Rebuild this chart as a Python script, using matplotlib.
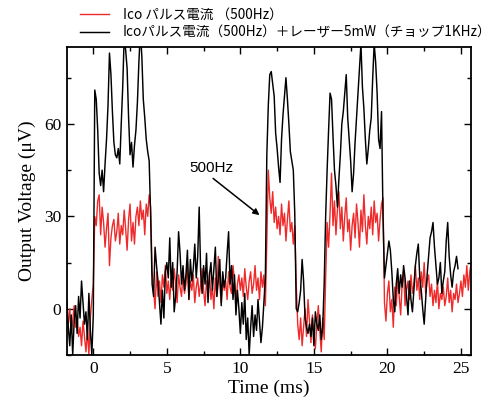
import numpy as np
import matplotlib
matplotlib.use('Agg')
import matplotlib.pyplot as plt
from matplotlib.ticker import MultipleLocator

# サンプリング: -1.8 ms から 0.1 ms 刻み
T_START = -1.8
DT = 0.1

# Ico パルス電流 (500Hz)  [µV]
red_vals = [
    -2, -5, 0, -8, -4, 1, -6, -3, -9,
    -6, -12, -4, -9, -14, -7, -15, -3, 3, 8,
    30, 27, 35, 37, 24, 33, 28, 20, 26, 31,
    14, 23, 27, 29, 22, 25, 31, 21, 27, 24,
    32, 26, 19, 29, 34, 22, 28, 21, 30, 33,
    27, 35, 29, 32, 24, 34, 30, 37, 33, 12,
    6, 0, 12, 4, 9, 2, 11, 7, 14, 5,
    9, 3, 10, 6, 13, 8, 2, 11, 7, 4,
    12, 5, 8, 15, 3, 9, 6, 11, 2, 7,
    10, 4, 8, 13, 6, 1, 9, 5, 12, 3,
    7, 0, 10, 4, 17, 8, 2, 11, 6, 9,
    3, 12, 7, 5, 14, 9, 2, 8, 11, 6,
    10, 4, 13, 7, 3, 9, 12, 5, 8, 14,
    6, 10, 3, 12, 7, 11, 1, 22, 45, 36,
    31, 38, 28, 33, 26, 30, 24, 34, 27, 31,
    22, 29, 35, 25, 28, 21, 27, 8, -5, -10,
    -3, -12, -6, 0, -9, 3, -4, -11, -2, -8,
    -13, -5, 1, -7, -14, -3, -10, 10, 28, 20,
    31, 44, 27, 35, 24, 32, 38, 26, 33, 22,
    30, 36, 25, 29, 19, 27, 31, 23, 34, 28,
    20, 32, 25, 37, 27, 21, 30, 26, 33, 24,
    35, 28, 31, 22, 29, 34, 36, 2, -4, 5,
    9, -1, 3, -6, 7, 1, 10, 4, -2, 8,
    12, 1, 6, 9, 3, 11, 5, 8, 14, 6,
    10, 3, 12, 7, 15, 5, 9, 11, 4, 8,
    1, 6, 2, 9, 0, 5, 3, 7, 1, 4,
    10, 2, 6, -1, 5, 3, 8, 2, 5, 9,
    4, 11, 7, 14, 6, 12, 15,
]

# Ico パルス電流 (500Hz) + レーザー 5mW (チョップ 1KHz)  [µV]
black_vals = [
    3, -6, -12, -2, -15, -4, 1, -8, 4,
    -3, 9, 2, -5, -1, -10, 5, -7, -15, -2,
    71, 68, 58, 44, 40, 45, 38, 47, 55, 66,
    83, 76, 64, 54, 50, 49, 52, 47, 60, 72,
    88, 84, 78, 62, 50, 54, 46, 53, 58, 67,
    80, 90, 82, 68, 62, 55, 51, 48, 30, 8,
    4, 20, 14, 9, 2, -5, 6, -3, 12, 15,
    10, 23, 7, 15, -1, 4, 12, 25, 18, 8,
    14, 6, 11, 19, 3, 16, 9, 13, 21, 10,
    17, 33, 12, 5, 14, 8, 18, 2, 11, 15,
    6, 13, 20, 4, 9, 16, 1, 12, 7, 10,
    18, 25, 8, 14, 3, 11, -2, 6, 0, -8,
    2, -5, 5, -10, -3, -15, -6, 1, -9, -2,
    -7, 3, -4, -11, -6, 2, 10, 50, 66, 76,
    77, 73, 69, 57, 52, 46, 41, 55, 63, 69,
    75, 68, 60, 51, 48, 45, 31, 0, -1, 2,
    6, 16, 9, -3, -6, -8, -5, -9, -3, -12,
    -1, -5, -7, -2, -10, -6, 8, 30, 45, 58,
    70, 68, 56, 45, 40, 33, 42, 50, 60, 64,
    70, 76, 62, 55, 48, 38, 44, 54, 62, 70,
    78, 86, 72, 65, 55, 47, 52, 58, 62, 75,
    86, 80, 70, 55, 52, 64, 30, 10, 14, 18,
    22, 19, 12, 3, -1, 8, 13, 5, 11, 7,
    14, 10, 4, -2, 9, 3, -1, 6, 14, 18,
    21, 10, 6, 0, -5, 3, 11, 17, 23, 25,
    28, 20, 14, 8, 10, 15, 5, 9, 12, 22,
    28, 17, 11, 7, 12, 14, 17, 13,
]

red_label = "Ico パルス電流 （500Hz）"
black_label = "Icoパルス電流（500Hz）＋レーザー5mW（チョップ1KHz）"

t_red = T_START + DT * np.arange(len(red_vals))
t_black = T_START + DT * np.arange(len(black_vals))

serif = ['Liberation Serif', 'DejaVu Serif']
jp = ['Noto Sans CJK JP', 'DejaVu Sans']

fig = plt.figure(figsize=(4.95, 4.08), dpi=100)
ax = fig.add_axes([0.135, 0.13, 0.817, 0.755])

ln_red, = ax.plot(t_red, red_vals, color='#ee2a2a', lw=1.0)
ln_black, = ax.plot(t_black, black_vals, color='black', lw=1.05)

ax.set_xlim(-1.8, 25.7)
ax.set_ylim(-15, 85)
ax.xaxis.set_major_locator(MultipleLocator(5))
ax.xaxis.set_minor_locator(MultipleLocator(2.5))
ax.yaxis.set_major_locator(MultipleLocator(30))
ax.yaxis.set_minor_locator(MultipleLocator(15))
ax.tick_params(which='both', direction='in', top=True, right=True, width=1.0)
ax.tick_params(which='major', length=5, labelsize=12.5, pad=4)
ax.tick_params(which='minor', length=3)
for lab in ax.get_xticklabels() + ax.get_yticklabels():
    lab.set_family(serif)
for s in ax.spines.values():
    s.set_linewidth(1.3)

ax.set_xlabel('Time (ms)', family=serif, fontsize=14, labelpad=2)
ax.set_ylabel('Output Voltage (μV)', family=serif, fontsize=14, labelpad=6)

ax.text(8.05, 45.7, '500Hz', family=['Liberation Sans'], fontsize=11,
        ha='center', va='center')
ax.annotate('', xy=(11.3, 30.4), xytext=(8.15, 42.3),
            arrowprops=dict(arrowstyle='-|>', color='black', lw=1.1,
                            mutation_scale=9, shrinkA=0, shrinkB=0))

leg = fig.legend([ln_red, ln_black], [red_label, black_label],
                 loc='upper left', bbox_to_anchor=(0.145, 1.0),
                 frameon=False, handlelength=2.15, handletextpad=1.0,
                 borderpad=0.1, labelspacing=0.28,
                 prop={'family': jp, 'size': 9.8})

fig.savefig('out.png', dpi=100)
